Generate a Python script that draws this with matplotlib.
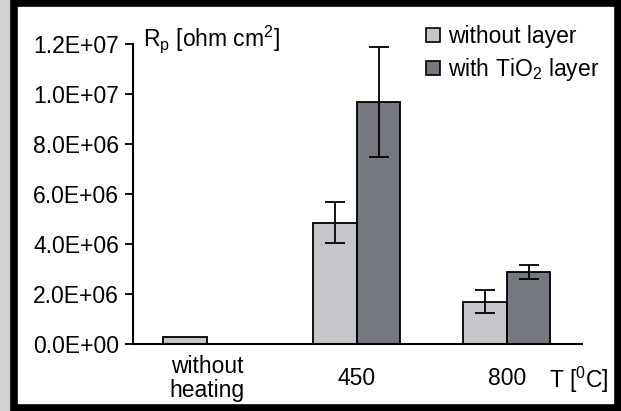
import numpy as np
import matplotlib
matplotlib.use("Agg")
import matplotlib.pyplot as plt
from matplotlib.ticker import FuncFormatter
from matplotlib.patches import Rectangle
from matplotlib.lines import Line2D

# data
groups = ["without\nheating", "450", "800"]
without_layer = [2.8e5, 4.85e6, 1.70e6]
without_layer_err = [0.0, 0.82e6, 0.46e6]
with_tio2 = [0.0, 9.68e6, 2.90e6]
with_tio2_err = [0.0, 2.2e6, 0.28e6]

light = "#c6c6ca"
dark = "#75797f"
bg = "#d3d3d5"

plt.rcParams["font.family"] = ["Liberation Sans", "DejaVu Sans"]
plt.rcParams["mathtext.fontset"] = "custom"
plt.rcParams["mathtext.rm"] = "Liberation Sans"
plt.rcParams["mathtext.default"] = "regular"
plt.rcParams["font.size"] = 16.5

fig = plt.figure(figsize=(6.21, 4.11), dpi=100, facecolor=bg)
# black frame around the white panel
fig.patches.append(Rectangle((14 / 621, 3 / 411), 604 / 621, 405 / 411,
                             transform=fig.transFigure, facecolor="white",
                             edgecolor="black", linewidth=5.5, zorder=-5))

ax = fig.add_axes([133 / 621, 67 / 411, 449 / 621, 300 / 411])
ax.set_facecolor("none")
ax.set_zorder(2)

x = np.arange(len(groups))
w = 0.29
ekw = dict(elinewidth=1.3, capthick=1.3, ecolor="black")
ax.bar(x - w / 2, without_layer, w, color=light, edgecolor="black", linewidth=1.3,
       yerr=[e if e > 0 else np.nan for e in without_layer_err], capsize=7, error_kw=ekw)
ax.bar(x + w / 2, with_tio2, w, color=dark, edgecolor="black", linewidth=1.3,
       yerr=[e if e > 0 else np.nan for e in with_tio2_err], capsize=7, error_kw=ekw)

ax.set_xlim(-0.493, 2.5)
ax.set_ylim(0, 1.2e7)
ax.set_yticks(np.arange(0, 1.21e7, 2e6))
ax.yaxis.set_major_formatter(FuncFormatter(lambda v, p: "{:.1E}".format(v)))
ax.tick_params(axis="y", direction="out", length=6, width=1.3, pad=4)

ax.set_xticks(x)
ax.set_xticklabels(groups, linespacing=1.05)
ax.tick_params(axis="x", length=0, pad=25)
for lab in ax.get_xticklabels():
    lab.set_va("center")

for s in ["top", "right"]:
    ax.spines[s].set_visible(False)
ax.spines["left"].set_linewidth(1.5)
ax.spines["bottom"].set_linewidth(1.5)

ax.text(0.022, 1.015, "R$_p$ [ohm cm$^2$]", transform=ax.transAxes,
        ha="left", va="center")
ax.text(0.926, -0.12, "T [$^0$C]", transform=ax.transAxes,
        ha="left", va="center")

handles = [Line2D([], [], linestyle="none", marker="s", markersize=10,
                  markerfacecolor=light, markeredgecolor="black", markeredgewidth=1.2),
           Line2D([], [], linestyle="none", marker="s", markersize=10,
                  markerfacecolor=dark, markeredgecolor="black", markeredgewidth=1.2)]
ax.legend(handles, ["without layer", "with TiO$_2$ layer"], frameon=False,
          loc="upper left", bbox_to_anchor=(0.623, 1.101), handlelength=0.8,
          handletextpad=0.22, labelspacing=0.35, borderpad=0)

fig.savefig("out.png", dpi=100, facecolor=bg)
